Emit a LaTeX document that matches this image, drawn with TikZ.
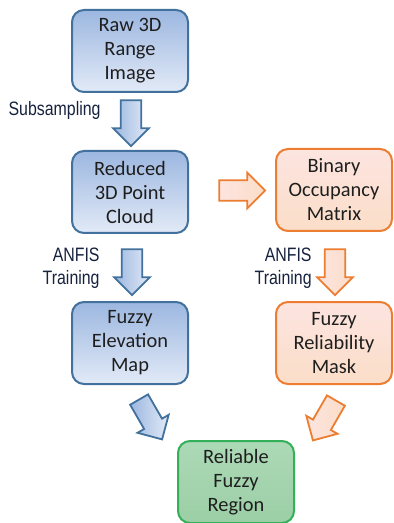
\documentclass[tikz,border=0pt]{standalone}
\usepackage{fontspec}
\setmainfont{Carlito}
\newfontfamily\narrowfont[FakeStretch=0.82]{Liberation Sans}
\usetikzlibrary{shapes.arrows}

\definecolor{bluedraw}{RGB}{65,113,156}
\definecolor{bluetop}{RGB}{156,183,224}
\definecolor{bluemid}{RGB}{176,199,236}
\definecolor{bluebot}{RGB}{226,234,247}
\definecolor{orangedraw}{RGB}{237,125,49}
\definecolor{orangetop}{RGB}{252,228,224}
\definecolor{orangemid}{RGB}{244,176,128}
\definecolor{orangebot}{RGB}{251,222,200}
\definecolor{greendraw}{RGB}{52,176,90}
\definecolor{greentop}{RGB}{172,217,182}
\definecolor{greenmid}{RGB}{206,234,211}
\definecolor{greenbot}{RGB}{156,207,166}
\definecolor{boxtext}{RGB}{30,30,30}
\definecolor{labeltext}{RGB}{22,34,62}

\tikzset{
  stage/.style={rectangle, rounded corners=6pt, line width=1pt,
    minimum width=58pt, minimum height=41pt, inner sep=0pt,
    align=center, text=boxtext, font=\fontsize{10.2}{12}\selectfont},
  bluestage/.style={stage, draw=bluedraw,
    top color=bluetop, middle color=bluemid, bottom color=bluebot},
  orangestage/.style={stage, draw=orangedraw,
    top color=orangetop, middle color=orangemid, bottom color=orangebot},
  greenstage/.style={stage, draw=greendraw,
    top color=greentop, middle color=greenmid, bottom color=greenbot},
  blockarrow/.style={single arrow, line width=0.9pt, inner xsep=0pt,
    inner ysep=3.6pt, minimum height=23pt, minimum width=18pt,
    single arrow head extend=3pt},
  bluearrow/.style={blockarrow, draw=bluedraw,
    left color=bluetop, right color=bluebot},
  orangearrow/.style={blockarrow, draw=orangedraw,
    left color=orangetop, middle color=orangemid, right color=orangebot},
  steplabel/.style={anchor=east, align=right, inner sep=0pt, text=labeltext,
    font=\narrowfont\fontsize{9.7}{11.5}\selectfont}
}

\begin{document}
\begin{tikzpicture}[x=0.5pt,y=-0.5pt]
  \useasboundingbox (0,0) rectangle (393,523);

  % stages
  \node[bluestage] (raw) at (130,51) {Raw 3D\\Range\\Image};
  \node[bluestage] (cloud) at (130,192) {Reduced\\3D Point\\Cloud};
  \node[bluestage] (elevation) at (130,343) {Fuzzy\\Elevation\\Map};
  \node[orangestage] (occupancy) at (334,190) {Binary\\Occupancy\\Matrix};
  \node[orangestage] (reliability) at (334,343) {Fuzzy\\Reliability\\Mask};
  \node[greenstage] (region) at (236,482) {Reliable\\Fuzzy\\Region};

  % block arrows
  \node[bluearrow, rotate=-90] (subsample) at (131,118) {};
  \node[bluearrow, rotate=-90] (trainelev) at (132,267) {};
  \node[orangearrow] (binarize) at (237,190.5) {};
  \node[orangearrow, rotate=-90] (trainmask) at (335,267) {};
  \node[bluearrow, rotate=-60] (mergeelev) at (148,415) {};
  \node[orangearrow, rotate=-120] (mergemask) at (327,416) {};

  % labels
  \node[steplabel] (sublabel) at (101,110) {Subsampling};
  \node[steplabel] (elevlabel) at (100,268) {ANFIS\\Training};
  \node[steplabel] (masklabel) at (312,268) {ANFIS\\Training};
\end{tikzpicture}
\end{document}
